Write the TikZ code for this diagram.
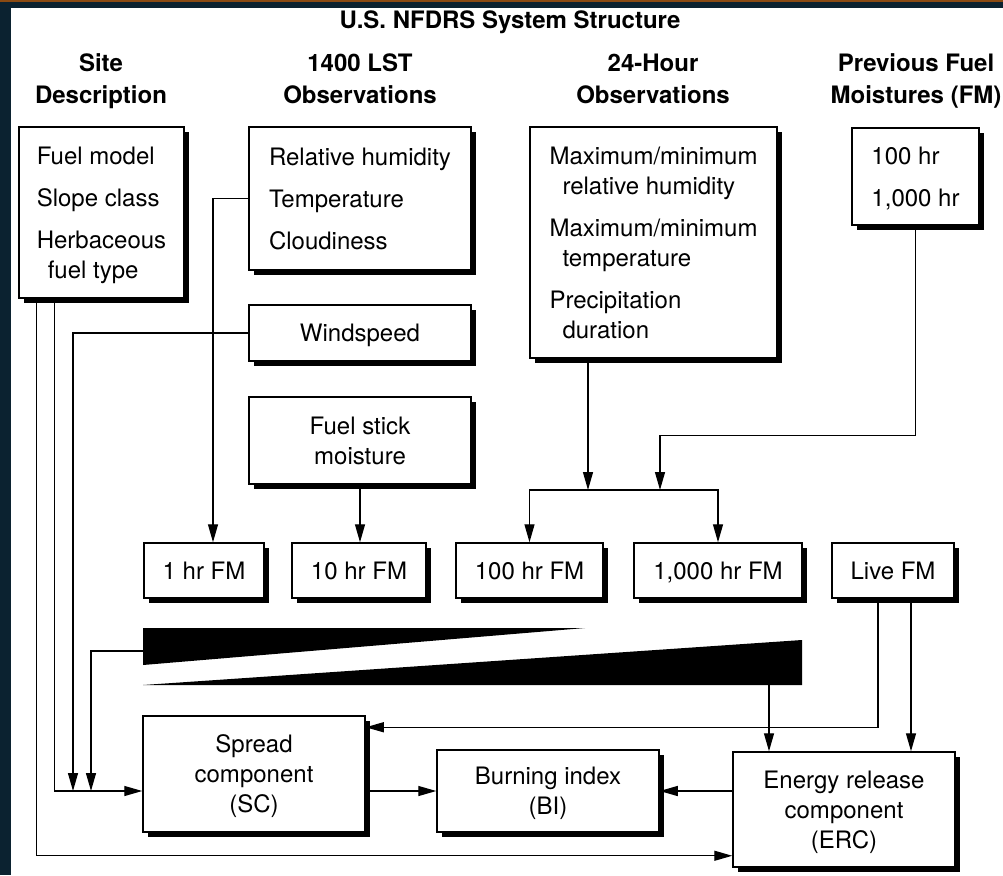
\documentclass[tikz,border=0pt]{standalone}
\usepackage{fontspec}
\setmainfont{TeX Gyre Heros}
\usetikzlibrary{arrows.meta,shadows}
\definecolor{navy}{HTML}{0B2230}
\definecolor{rust}{HTML}{8A4A12}
\tikzset{
  box/.style={
    draw, fill=white, line width=1.5pt, inner sep=0pt, align=center, text depth=0pt,
    font=\fontsize{24}{30}\selectfont,
    drop shadow={shadow xshift=5pt, shadow yshift=-5pt, opacity=1, fill=black}
  },
  listbox/.style={box, align=left},
  head/.style={
    inner sep=0pt, align=center, text depth=0pt, font=\bfseries\fontsize{24}{32}\selectfont
  },
  arr/.style={-{Triangle[length=18pt,width=10pt]}, line width=1.3pt}
}

\begin{document}
\begin{tikzpicture}[x=1pt, y=-1pt]
   \useasboundingbox (0,0) rectangle (1003,875);
   \fill[navy] (0,0) rectangle (1003,875);
   \fill[white] (11,8) rectangle (1003,875);
   \fill[rust] (0,0) rectangle (1003,2);

   \node[head] (title) at (510,20) {U.S. NFDRS System Structure};
   \node[head] (hsite) at (101,79) {Site\\Description};
   \node[head] (hlst) at (360,79) {1400 LST\\Observations};
   \node[head] (hday) at (653,79) {24-Hour\\Observations};
   \node[head] (hprev) at (916,79) {Previous Fuel\\Moistures (FM)};

   \node[listbox, minimum width=165, minimum height=171] (site) at (101.5,212.5)
     {Fuel model\\[12pt]Slope class\\[12pt]Herbaceous\\\hspace*{11pt}fuel type};
   \node[listbox, minimum width=222, minimum height=143] (lst) at (360,198.5)
     {Relative humidity\\[12pt]Temperature\\[12pt]Cloudiness};
   \node[listbox, minimum width=247, minimum height=231] (day) at (653.5,242.5)
     {Maximum/minimum\\\hspace*{13pt}relative humidity\\[12pt]Maximum/minimum\\
      \hspace*{13pt}temperature\\[12pt]Precipitation\\\hspace*{13pt}duration};
   \node[listbox, minimum width=127, minimum height=97] (prev) at (915.5,176.5)
     {100 hr\\[12pt]1,000 hr};

   \node[box, minimum width=222, minimum height=56] (wind) at (360,333) {Windspeed};
   \node[box, minimum width=222, minimum height=87] (stick) at (360,440.5) {Fuel stick\\moisture};

   \node[box, minimum width=120, minimum height=55] (fm1) at (204,570.5) {1 hr FM};
   \node[box, minimum width=134, minimum height=55] (fm10) at (359,570.5) {10 hr FM};
   \node[box, minimum width=147, minimum height=55] (fm100) at (529.5,570.5) {100 hr FM};
   \node[box, minimum width=168, minimum height=55] (fm1000) at (718,570.5) {1,000 hr FM};
   \node[box, minimum width=122, minimum height=55] (live) at (893,570.5) {Live FM};

   \node[box, minimum width=222, minimum height=116] (sc) at (254,774) {Spread\\component\\(SC)};
   \node[box, minimum width=222, minimum height=82] (bi) at (548,791) {Burning index\\(BI)};
   \node[box, minimum width=222, minimum height=115] (erc) at (844,809.5) {Energy release\\component\\(ERC)};

   \fill (143,628) -- (585,628) -- (143,665) -- cycle;
   \fill (143,685) -- (802,685) -- (802,640) -- cycle;

   \coordinate (wa) at (143,651);
   \coordinate (wb) at (769,685);
   \coordinate (jw) at (73,791);
   \coordinate (jf) at (91,791);
   \coordinate (jd) at (588,490);
   \coordinate (jp) at (660,490);
   \coordinate (bar) at (624,490);

   \draw[arr] (lst.west) -| ([shift={(9,0)}]fm1.north);
   \draw[arr] (stick.south) -- (stick.south |- fm10.north);
   \draw[arr] (day.south -| jd) -- (jd);
   \draw[arr] (prev.south) -- ++(0,210) -| (jp);
   \draw[line width=1.3pt] (fm100.north |- bar) -- (fm1000.north |- bar);
   \draw[arr] (bar) -| (fm100);
   \draw[arr] (bar) -| (fm1000);

   \draw[arr] ([shift={(18,0)}]site.south west) |- ([shift={(0,-12)}]erc.south west);
   \draw[arr] ([shift={(36,0)}]site.south west) |- (sc.west |- bi.west);
   \draw[arr] (wind.west) -| (jw);
   \draw[arr] (wa) -| (jf);

   \draw[arr] ([shift={(-15,0)}]live.south) |- ([shift={(0,12)}]sc.north east);
   \draw[arr] ([shift={(18,0)}]live.south) coordinate (lv) -- (lv |- erc.north);
   \draw[arr] (wb) -- (wb |- erc.north);

   \draw[arr] (sc.east |- bi.west) -- (bi.west);
   \draw[arr] (erc.west |- bi.east) -- (bi.east);
\end{tikzpicture}
\end{document}
